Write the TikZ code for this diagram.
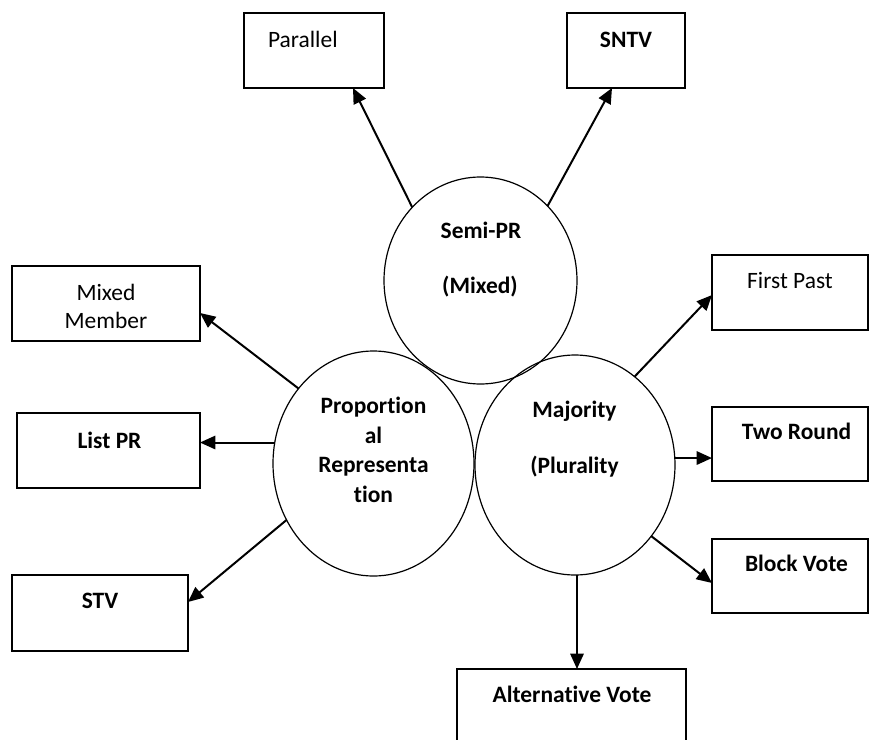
\documentclass[tikz,border=0pt]{standalone}
\usepackage{fontspec}
\setmainfont{Carlito}[Ligatures={NoCommon,NoContextual}]
\usetikzlibrary{arrows.meta,shapes.geometric,calc}
\tikzset{
  boxnode/.style={draw=black,line width=1.1pt,rectangle,inner sep=0pt,outer sep=0pt,fill=none},
  ellnode/.style={draw=black,line width=0.9pt,ellipse,inner sep=0pt,outer sep=0pt},
  txt/.style={anchor=base,inner sep=0pt,outer sep=0pt,font=\fontsize{17.6}{21}\selectfont},
  btxt/.style={txt,font=\fontsize{17.6}{21}\selectfont\bfseries},
  arr/.style={line width=1.5pt,-{Triangle[length=11.5pt,width=10pt]}}
}
\begin{document}
\begin{tikzpicture}[x=0.75pt,y=-0.75pt]
\clip (0,0) rectangle (869,740);
\fill[white] (0,0) rectangle (869,740);
% boxes
\node[boxnode,minimum width=105pt,minimum height=56.25pt] (par) at (314,50.5) {};
\node[boxnode,minimum width=88.5pt,minimum height=56.25pt] (sntv) at (626,50.5) {};
\node[boxnode,minimum width=141pt,minimum height=56.25pt] (mm) at (106,303.5) {};
\node[boxnode,minimum width=137.25pt,minimum height=56.25pt] (lpr) at (108.5,450.5) {};
\node[boxnode,minimum width=132pt,minimum height=57pt] (stv) at (100,613) {};
\node[boxnode,minimum width=117pt,minimum height=56.25pt] (fp) at (790,292.5) {};
\node[boxnode,minimum width=117pt,minimum height=55.5pt] (tr) at (790,444) {};
\node[boxnode,minimum width=117pt,minimum height=55.5pt] (bv) at (790,576) {};
\node[boxnode,minimum width=171.75pt,minimum height=56.25pt] (alt) at (571.5,706.5) {};
% ellipses
\node[ellnode,minimum width=144.75pt,minimum height=155.25pt] (semi) at (480.5,280.5) {};
\node[ellnode,minimum width=150.75pt,minimum height=168.75pt] (pr) at (373.5,463.5) {};
\node[ellnode,minimum width=150pt,minimum height=165pt] (maj) at (575,465) {};
% box texts
\node[txt,anchor=base west] (partx) at (268,47) {Parallel};
\node[btxt] (sntvtx) at (626,47) {SNTV};
\node[txt] (mmtx1) at (106,300) {Mixed};
\node[txt] (mmtx2) at (106,328) {Member};
\node[btxt] (lprtx) at (109.5,448) {List PR};
\node[btxt] (stvtx) at (100,608) {STV};
\node[txt] (fptx) at (790,288) {First Past};
\node[btxt] (trtx) at (796.5,439) {Two Round};
\node[btxt] (bvtx) at (796.5,571) {Block Vote};
\node[btxt] (alttx) at (572,702) {Alternative Vote};
% ellipse texts
\node[btxt] (semitx1) at (481,238) {Semi-PR};
\node[btxt] (semitx2) at (480,293) {(Mixed)};
\node[btxt] (prtx1) at (373.5,413) {Proportion};
\node[btxt] (prtx2) at (373.5,443) {al};
\node[btxt] (prtx3) at (373.5,472) {Representa};
\node[btxt] (prtx4) at (373.5,502) {tion};
\node[btxt] (majtx1) at (574.5,417) {Majority};
\node[btxt] (majtx2) at (574.5,473) {(Plurality};
% connectors
\draw[arr] (semi.133) -- ([xshift=29.25pt]par.south);
\draw[arr] (semi.48.6) -- ([xshift=-10.5pt]sntv.south);
\draw[arr] (pr.135) -- ([yshift=-7.1pt]mm.east);
\draw[arr] (pr.168) -- (pr.168 -| lpr.east);
\draw[arr] (pr.213.8) -- ([yshift=8.25pt]stv.east);
\draw[arr] (maj.56.3) -- ([yshift=-1.9pt]fp.west);
\draw[arr] (maj.4) -- (maj.4 -| tr.west);
\draw[arr] (maj.-43) -- ([yshift=-5.25pt]bv.west);
\draw[arr] ([xshift=1.5pt]maj.south) -- ([xshift=1.5pt]maj.south |- alt.north);
\end{tikzpicture}
\end{document}
